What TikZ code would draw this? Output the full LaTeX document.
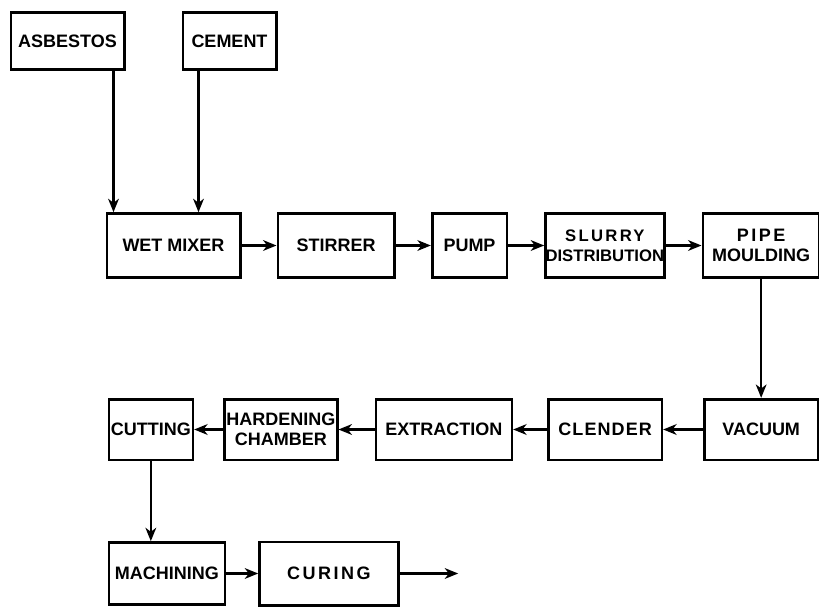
\documentclass[tikz,border=0pt]{standalone}
\usepackage{fontspec}
\setmainfont{Liberation Sans}
\newfontfamily\widefam{Liberation Sans}[LetterSpace=6]
\newfontfamily\widerfam{Liberation Sans}[LetterSpace=14]
\usetikzlibrary{arrows.meta,positioning}

\begin{document}
\begin{tikzpicture}[
  x=0.75pt, y=-0.75pt,
  box/.style={rectangle, draw, line width=2pt, align=center, inner sep=0pt,
              font=\bfseries\fontsize{13.5}{15}\selectfont},
  wide/.style={font=\widefam\bfseries\fontsize{13.5}{15}\selectfont},
  top/.style={box, minimum height=48pt},
  low/.style={box, minimum height=45.5pt},
  arr/.style={line width=1.8pt, -{Stealth[length=10pt, width=8pt, inset=3pt]}}]
  \useasboundingbox (0,0) rectangle (819,607);
  % raw materials
  \node[box, minimum width=85pt, minimum height=42.5pt] (asb) at (67.5,41) {ASBESTOS};
  \node[box, minimum width=70pt, minimum height=42.5pt, right=42pt of asb] (cem) {CEMENT};
  % first line
  \node[top, minimum width=100pt] (wet) at (173.5,245.5) {WET MIXER};
  \node[top, minimum width=87.5pt, right=26.25pt of wet] (stir) {STIRRER};
  \node[top, minimum width=56pt, right=26.25pt of stir] (pump) {PUMP};
  \node[top, minimum width=89pt, right=27pt of pump, font=\bfseries\fontsize{12.5}{15}\selectfont]
    (slur) {{\widerfam SLURRY}\\DISTRIBUTION};
  \node[top, minimum width=87.5pt, right=27pt of slur] (pipe) {{\widerfam PIPE}\\MOULDING};
  % second line
  \node[low, minimum width=85pt, below=89.25pt of pipe] (vac) {VACUUM};
  \node[low, wide, minimum width=85pt, left=30pt of vac] (clen) {CLENDER};
  \node[low, minimum width=102pt, left=25.5pt of clen] (extr) {EXTRACTION};
  \node[low, minimum width=84.5pt, left=27pt of extr] (hard) {HARDENING\\CHAMBER};
  \node[low, minimum width=63pt, left=21.75pt of hard] (cut) {CUTTING};
  % last line
  \node[box, minimum width=87pt, minimum height=46.5pt, below=60pt of cut.south west,
        anchor=north west] (mach) {MACHINING};
  \node[box, minimum width=104pt, minimum height=47.5pt, right=24pt of mach,
        font=\widerfam\bfseries\fontsize{13.5}{15}\selectfont] (cur) {CURING};
  \coordinate[right=44pt of cur] (out);
  \draw[arr] ([xshift=-9pt]asb.south east) -- ([xshift=-9pt]asb.south east |- wet.north);
  \draw[arr] ([xshift=12.75pt]cem.south west) -- ([xshift=12.75pt]cem.south west |- wet.north);
  \draw[arr] (wet) -- (stir);
  \draw[arr] (stir) -- (pump);
  \draw[arr] (pump) -- (slur);
  \draw[arr] (slur) -- (pipe);
  \draw[arr] (pipe.south) -- (pipe.south |- vac.north);
  \draw[arr] (vac) -- (clen);
  \draw[arr] (clen) -- (extr);
  \draw[arr] (extr) -- (hard);
  \draw[arr] (hard) -- (cut);
  \draw[arr] (cut.south) -- (cut.south |- mach.north);
  \draw[arr] (mach) -- (cur);
  \draw[arr] (cur) -- (out);
\end{tikzpicture}
\end{document}
